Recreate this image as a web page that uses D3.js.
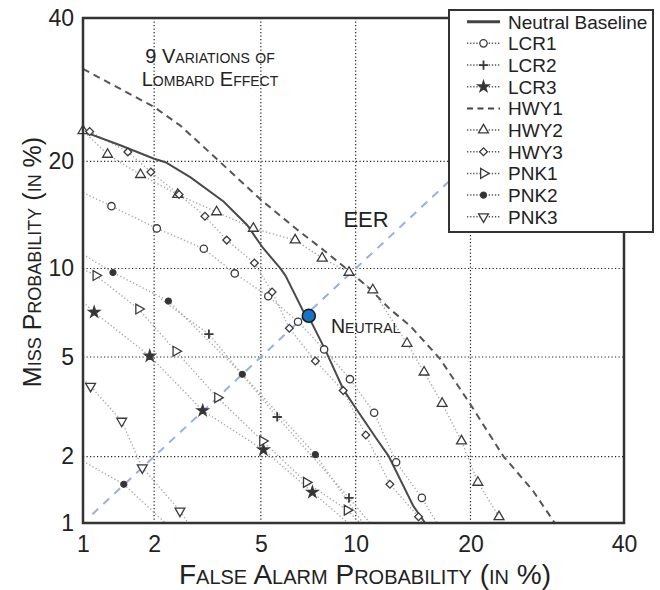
<!DOCTYPE html>
<html><head><meta charset="utf-8">
<script src="https://cdn.jsdelivr.net/npm/d3@7"></script>
<style>
body{margin:0;background:#fff}
svg text{font-family:"Liberation Sans",Arial,Helvetica,sans-serif;fill:#222}
</style></head>
<body><svg id="c" width="660" height="590"></svg>
<script>
// ---------- data (percent) ----------
const tickVals = [1, 2, 5, 10, 20, 40];
const tickLabels = ["1", "2", "5", "10", "20", "40"];
const gridVals = [2, 5, 10, 20];

const neutral = [[1,23.6],[1.45,21.9],[2,20.3],[2.22,19.9],[2.78,18.2],[3.69,15.7],[4.48,13.5],[5.07,11.6],[5.82,10.0],[6.05,9.5],[6.91,7.26],[7.18,6.97],[8.09,5.33],[9.2,3.77],[9.93,3.23],[11.5,2.37],[12.4,2.01],[14.45,1.2],[15.5,1.0]];
const neutralPoint = [7.2, 7.0];
const lcr1 = [[1,16.6],[1.33,15.25],[2.05,13.2],[3.12,11.5],[4.05,9.65],[5.3,8.14],[6.65,6.68],[8.04,5.33],[9.62,4.13],[11.3,3.05],[13.0,1.89],[15.2,1.31],[16.6,1.0]];
const lcr2 = [[2.13,7.96],[3.26,6.04],[5.68,2.93],[9.56,1.31],[11.0,1.0]];
const lcr3 = [[1,7.79],[1.12,7.2],[1.92,5.04],[3.09,3.11],[5.1,2.14],[7.39,1.39],[9.5,1.0]];
const hwy1 = [[1,32.2],[2,26.8],[2.55,24.3],[3.59,19.9],[4.99,15.9],[6.6,13.1],[8.0,11.4],[9.44,9.94],[11.0,8.6],[12.5,7.38],[14.2,6.44],[16.9,4.92],[20.0,3.29],[23.7,2.01],[27.3,1.42],[30.2,1.0]];
const hwy2 = [[1,23.9],[1,23.7],[1.28,20.8],[1.76,18.5],[2.48,16.4],[3.48,14.7],[4.71,13.2],[6.51,12.2],[7.93,10.76],[9.56,9.72],[11.2,8.54],[13.9,5.6],[15.4,4.39],[17.1,3.32],[19.05,2.33],[20.8,1.54],[23.2,1.07],[23.6,1.0]];
const hwy3 = [[1,24.0],[1.07,23.6],[1.56,21.1],[1.94,18.8],[2.51,16.4],[3.15,14.3],[3.79,12.2],[4.75,10.4],[5.46,8.41],[6.23,6.34],[7.55,4.83],[9.19,3.73],[10.7,2.47],[12.5,1.51],[14.9,1.07],[15.2,1.0]];
const pnk1 = [[1,9.94],[1.14,9.5],[1.73,7.38],[2.44,5.25],[3.51,3.5],[5.07,2.33],[7.07,1.54],[9.44,1.15],[10.3,1.0]];
const pnk2 = [[1,11.06],[1.35,9.71],[2.28,7.85],[4.31,4.31],[7.55,2.04],[10.5,1.0]];
const pnk2Low = [[1,1.91],[1.5,1.51],[2.22,1.0]];
const pnk3 = [[1,4.13],[1.08,3.88],[1.47,2.82],[1.79,1.79],[2.53,1.14],[2.72,1.0]];
const eer = [[1.1,1.1],[40,40]];
const legendNames = ["Neutral Baseline","LCR1","LCR2","LCR3","HWY1","HWY2","HWY3","PNK1","PNK2","PNK3"];

// ---------- probit (normal deviate) ----------
function probit(p){
  const a=[-3.969683028665376e+01,2.209460984245205e+02,-2.759285104469687e+02,1.383577518672690e+02,-3.066479806614716e+01,2.506628277459239e+00];
  const b=[-5.447609879822406e+01,1.615858368580409e+02,-1.556989798598866e+02,6.680131188771972e+01,-1.328068155288572e+01];
  const c=[-7.784894002430293e-03,-3.223964580411365e-01,-2.400758277161838e+00,-2.549732539343734e+00,4.374664141464968e+00,2.938163982698783e+00];
  const d=[7.784695709041462e-03,3.224671290700398e-01,2.445134137142996e+00,3.754408661907416e+00];
  const plow=0.02425, phigh=1-plow; let q,r;
  if(p<plow){q=Math.sqrt(-2*Math.log(p));return (((((c[0]*q+c[1])*q+c[2])*q+c[3])*q+c[4])*q+c[5])/((((d[0]*q+d[1])*q+d[2])*q+d[3])*q+1);}
  if(p<=phigh){q=p-0.5;r=q*q;return (((((a[0]*r+a[1])*r+a[2])*r+a[3])*r+a[4])*r+a[5])*q/(((((b[0]*r+b[1])*r+b[2])*r+b[3])*r+b[4])*r+1);}
  q=Math.sqrt(-2*Math.log(1-p));return -(((((c[0]*q+c[1])*q+c[2])*q+c[3])*q+c[4])*q+c[5])/((((d[0]*q+d[1])*q+d[2])*q+d[3])*q+1);
}

const svg = d3.select("#c");
const M = {left:83, right:624, top:18, bottom:523};
const xs = d3.scaleLinear().domain([probit(0.01), probit(0.40)]).range([M.left, M.right]);
const ys = d3.scaleLinear().domain([probit(0.01), probit(0.40)]).range([M.bottom, M.top]);
const X = v => xs(probit(v/100)), Y = v => ys(probit(v/100));
const FONT = '"Liberation Sans", Arial, Helvetica, sans-serif';

svg.append("defs").append("clipPath").attr("id","clip").append("rect")
  .attr("x",M.left).attr("y",M.top).attr("width",M.right-M.left).attr("height",M.bottom-M.top);

// grid
const grid = svg.append("g").attr("stroke","#222").attr("stroke-width",1.2).attr("stroke-dasharray","1.2,2.3");
grid.selectAll(".gx").data(gridVals).join("line").attr("x1",d=>X(d)).attr("x2",d=>X(d)).attr("y1",M.top).attr("y2",M.bottom);
grid.selectAll(".gy").data(gridVals).join("line").attr("y1",d=>Y(d)).attr("y2",d=>Y(d)).attr("x1",M.left).attr("x2",M.right);

// axes
const xAxis = d3.axisBottom(xs).tickValues(tickVals.map(v=>probit(v/100))).tickFormat((d,i)=>tickLabels[i]).tickSize(0).tickPadding(13);
const yAxis = d3.axisLeft(ys).tickValues(tickVals.map(v=>probit(v/100))).tickFormat((d,i)=>tickLabels[i]).tickSize(0).tickPadding(9);
svg.append("g").attr("transform",`translate(0,${M.bottom})`).call(xAxis)
  .attr("font-family",FONT).attr("font-size",23).call(g=>g.select(".domain").remove())
  .selectAll("text").attr("fill","#222");
svg.append("g").attr("transform",`translate(${M.left},0)`).call(yAxis)
  .attr("font-family",FONT).attr("font-size",23).call(g=>g.select(".domain").remove())
  .selectAll("text").attr("fill","#222");

const line = d3.line().x(d=>X(d[0])).y(d=>Y(d[1]));
const plot = svg.append("g").attr("clip-path","url(#clip)");

// EER diagonal
plot.append("path").datum(eer).attr("d",line).attr("fill","none")
  .attr("stroke","#93b1e4").attr("stroke-width",2).attr("stroke-dasharray","8,7");

// series
const sym = {
  circle:{type:d3.symbolCircle,size:42,rot:0,fill:"#fff"},
  plus:{type:d3.symbolPlus,size:30,rot:0,fill:"none",sw:1.8},
  star:{type:d3.symbolStar,size:38,rot:0,fill:"#333"},
  triUp:{type:d3.symbolTriangle,size:42,rot:0,fill:"#fff"},
  diamond:{type:d3.symbolSquare,size:30,rot:45,fill:"#fff"},
  triRight:{type:d3.symbolTriangle,size:42,rot:90,fill:"#fff"},
  dot:{type:d3.symbolCircle,size:28,rot:0,fill:"#333"},
  triDown:{type:d3.symbolTriangle,size:42,rot:180,fill:"#fff"}
};
const series = [
  {data:lcr1, m:"circle"},{data:lcr2, m:"plus"},{data:lcr3, m:"star"},
  {data:hwy2, m:"triUp"},{data:hwy3, m:"diamond"},{data:pnk1, m:"triRight"},
  {data:pnk2, m:"dot"},{data:pnk2Low, m:"dot"},{data:pnk3, m:"triDown"}
];
series.forEach(s=>{
  plot.append("path").datum(s.data).attr("d",line).attr("fill","none")
    .attr("stroke","#a8a8a8").attr("stroke-width",1.4).attr("stroke-dasharray","1.3,2.3");
});
plot.append("path").datum(hwy1).attr("d",line).attr("fill","none")
  .attr("stroke","#555").attr("stroke-width",2).attr("stroke-dasharray","7,5");
plot.append("path").datum(neutral).attr("d",line).attr("fill","none")
  .attr("stroke","#4a4a4a").attr("stroke-width",2);

function drawSym(g, key, x, y){
  const s = sym[key];
  g.append("path").attr("d",d3.symbol(s.type,s.size)())
    .attr("transform",`translate(${x},${y}) rotate(${s.rot})`)
    .attr("fill",s.fill).attr("stroke","#3a3a3a").attr("stroke-width",s.sw||1.3);
}
const mg = svg.append("g");
series.forEach(s=>{
  s.data.slice(1,-1).forEach(p=>drawSym(mg, s.m, X(p[0]), Y(p[1])));
});

// neutral point
svg.append("circle").attr("cx",X(neutralPoint[0])).attr("cy",Y(neutralPoint[1])).attr("r",6.5)
  .attr("fill","#1673c6").attr("stroke","#1a1a1a").attr("stroke-width",1.5);

// frame
svg.append("rect").attr("x",M.left).attr("y",M.top).attr("width",M.right-M.left).attr("height",M.bottom-M.top)
  .attr("fill","none").attr("stroke","#333").attr("stroke-width",2.5);

// annotations
const sc = (t)=>t.style("font-variant","small-caps");
sc(svg.append("text").attr("x",210).attr("y",63).attr("text-anchor","middle").attr("font-size",20).text("9 Variations of"));
sc(svg.append("text").attr("x",210).attr("y",86).attr("text-anchor","middle").attr("font-size",20).text("Lombard Effect"));
svg.append("text").attr("x",366).attr("y",227).attr("text-anchor","middle").attr("font-size",22).text("EER");
sc(svg.append("text").attr("x",331).attr("y",333).attr("font-size",19.5).text("Neutral"));

// axis titles
sc(svg.append("text").attr("x",365).attr("y",584).attr("text-anchor","middle").attr("font-size",28)
  .text("False Alarm Probability (in %)"));
sc(svg.append("text").attr("transform","translate(41,262) rotate(-90)").attr("text-anchor","middle").attr("font-size",25)
  .text("Miss Probability (in %)"));

// legend
const L = {x:449, y:10, w:204, h:222};
const lg = svg.append("g");
lg.append("rect").attr("x",L.x).attr("y",L.y).attr("width",L.w).attr("height",L.h)
  .attr("fill","#fff").attr("stroke","#333").attr("stroke-width",2);
const legendMarks = [null,"circle","plus","star",null,"triUp","diamond","triRight","dot","triDown"];
legendNames.forEach((name,i)=>{
  const cy = 21.7 + i*21.67;
  const ln = lg.append("line").attr("x1",467).attr("x2",500).attr("y1",cy).attr("y2",cy);
  if(i===0) ln.attr("stroke","#444").attr("stroke-width",3);
  else if(i===4) ln.attr("stroke","#444").attr("stroke-width",2).attr("stroke-dasharray","6,4.5");
  else ln.attr("stroke","#555").attr("stroke-width",1.5).attr("stroke-dasharray","1.3,1.8");
  if(legendMarks[i]) drawSym(lg, legendMarks[i], 483.5, cy);
  lg.append("text").attr("x",508).attr("y",cy).attr("dy","0.36em").attr("font-size",19).text(name);
});
</script></body></html>
